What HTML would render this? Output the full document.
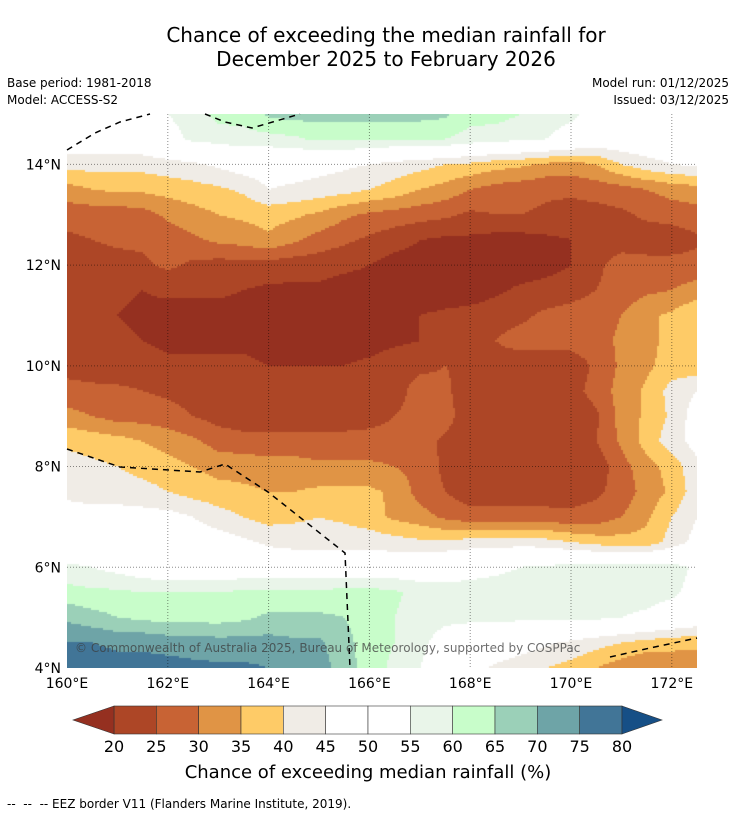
<!DOCTYPE html>
<html><head><meta charset="utf-8"><style>
body{margin:0;background:#fff;width:736px;height:816px;overflow:hidden;font-family:"DejaVu Sans","Liberation Sans",sans-serif;}
#wrap{position:relative;width:736px;height:816px;}
.t{position:absolute;white-space:nowrap;color:#000}
</style></head><body><div id="wrap">
<div class="t" style="left:0;width:772px;text-align:center;top:23px;font-size:20px;line-height:24px">Chance of exceeding the median rainfall for<br>December 2025 to February 2026</div>
<div class="t" style="left:7px;top:76px;font-size:12px">Base period: 1981-2018</div>
<div class="t" style="left:7px;top:93px;font-size:12px">Model: ACCESS-S2</div>
<div class="t" style="right:7px;top:76px;font-size:12px">Model run: 01/12/2025</div>
<div class="t" style="right:7px;top:93px;font-size:12px">Issued: 03/12/2025</div>
<canvas id="cv" width="630" height="554" style="position:absolute;left:67px;top:114px"></canvas>
<svg id="ov" width="736" height="816" style="position:absolute;left:0;top:0"></svg>
<div class="t" style="left:75px;top:641px;font-size:12px;color:rgba(60,60,60,0.75)">© Commonwealth of Australia 2025, Bureau of Meteorology, supported by COSPPac</div>
<div class="t" style="left:0;width:736px;text-align:center;top:762px;font-size:18px">Chance of exceeding median rainfall (%)</div>
<div class="t" style="left:7px;top:797px;font-size:12px">-- &nbsp;-- &nbsp;-- EEZ border V11 (Flanders Marine Institute, 2019).</div>
</div>
<script>
const lons=[160,160.5,161,161.5,162,162.5,163,163.5,164,164.5,165,165.5,166,166.5,167,167.5,168,168.5,169,169.5,170,170.5,171,171.5,172,172.5];
const lats=[15,14.5,14,13.5,13,12.5,12,11.5,11,10.5,10,9.5,9,8.5,8,7.5,7,6.5,6,5.5,5,4.5,4];
const r15=[52,52,52,53,55,57,62,62,66,67,67,67,67,67,67,66,62,62,60,57,56,53,51,50,50,50];
const r145=[50,50,50,50,53,56,57,58,58,59,61,61,61,60,60,60,58,57,56,55,53,50,50,50,50,50];
const r14=[42,42,42,42,43,44,46,48,48,48,47,46,45,43,42,40,39,37,36,34,33,35,40,43,45,46];
const r135=[33,35,36,36,37,38,39,41,45,44,43,42,40,38,35,33,30,28,27,26,26,27,28,30,32,33];
const r13=[27,27,27,28,31,33,35,36,37,36,34,31,29,28,27,26,24,25,25,24,23,23,24,26,27,28];
const r125=[24,25,26,26,27,29,31,32,34,31,28,26,24,22,20,19,19,18,18,19,20,22,23,22,22,24];
const r12=[22,22,23,24,26,24,23,23,23,22,22,21,20,18,18,17,17,17,17,18,20,24,27,27,27,27];
const r115=[23,22,21,20,21,21,21,20,19,19,19,18,18,17,17,17,17,19,21,22,23,25,27,29,30,32];
const r11=[22,22,20,19,18,18,18,18,17,17,17,17,17,18,20,21,22,23,24,26,27,28,30,34,36,40];
const r105=[23,22,21,20,19,19,19,19,18,18,18,18,18,19,20,21,22,25,27,27,27,28,31,34,36,38];
const r10=[24,23,22,22,21,21,21,21,20,20,20,20,21,23,24,25,24,23,22,22,22,26,31,34,37,37];
const r95=[26,26,26,25,24,23,22,22,22,22,22,22,22,23,27,26,22,21,21,22,23,27,32,36,42,45];
const r9=[32,30,28,28,27,25,23,22,22,22,22,22,23,25,27,27,22,21,21,21,21,24,32,36,41,48];
const r85=[39,38,37,35,33,31,28,27,27,27,27,27,27,27,27,24,22,22,23,22,22,25,31,37,43,47];
const r8=[42,41,40,38,37,35,33,33,32,32,31,31,31,30,28,24,22,24,25,22,21,22,28,33,37,44];
const r75=[44,43,43,42,40,38,37,36,35,35,36,36,36,34,28,25,22,22,22,22,23,24,27,32,36,43];
const r7=[47,47,47,47,47,45,42,40,38,39,40,39,37,34,32,29,27,27,27,27,26,27,30,34,40,45];
const r65=[50,50,50,50,50,49,48,46,44,43,43,43,43,42,41,41,42,42,43,42,40,38,37,37,42,47];
const r6=[56,55,53,51,50,50,50,50,50,50,50,50,50,50,51,52,53,54,55,56,57,57,57,57,57,54];
const r55=[62,61,61,60,60,60,60,61,61,61,61,62,62,61,58,57,57,57,57,57,57,57,57,57,56,53];
const r5=[69,67,65,64,63,63,63,64,66,66,66,65,62,60,57,56,56,56,56,56,56,56,55,54,52,50];
const r45=[75,75,74,74,73,73,72,72,72,71,71,67,62,60,56,53,51,50,48,46,44,42,40,38,37,36];
const r4=[78,78,77,77,77,76,76,76,75,74,72,68,62,59,55,52,47,44,42,40,38,35,32,30,31,32];
const values=[r15,r145,r14,r135,r13,r125,r12,r115,r11,r105,r10,r95,r9,r85,r8,r75,r7,r65,r6,r55,r5,r45,r4];
const levels=[20,25,30,35,40,45,50,55,60,65,70,75,80];
const colors=['#953020','#ad4626','#c86334','#e09445','#fecb67','#f0ece6','#ffffff','#ffffff','#e9f5e9','#c8fdca','#9bd0b8','#6ea4a7','#417597','#164f86'];
const lonTicks=[160,162,164,166,168,170,172];
const latTicks=[4,6,8,10,12,14];

const X0=67,Y0=114,W=630,H=554;
const lon0=160,lon1=172.5,lat0=4,lat1=15;
function xs(lon){return X0+(lon-lon0)/(lon1-lon0)*W;}
function ys(lat){return Y0+(lat1-lat)/(lat1-lat0)*H;}
function colorFor(v){let i=0;while(i<levels.length&&v>=levels[i])i++;return colors[i];}
function sample(lon,lat){
  let fi=(lon-lons[0])/(lons[1]-lons[0]);let fj=(lats[0]-lat)/(lats[0]-lats[1]);
  fi=Math.max(0,Math.min(lons.length-1.0001,fi));fj=Math.max(0,Math.min(lats.length-1.0001,fj));
  const i=Math.floor(fi),j=Math.floor(fj),a=fi-i,b=fj-j;
  const v00=values[j][i],v10=values[j][i+1],v01=values[j+1][i],v11=values[j+1][i+1];
  return (v00*(1-a)+v10*a)*(1-b)+(v01*(1-a)+v11*a)*b;
}
const ctx=document.getElementById('cv').getContext('2d');
const S=2;
for(let py=0;py<H;py+=S){for(let px=0;px<W;px+=S){
  const lon=lon0+(px+S/2)/W*(lon1-lon0),lat=lat1-(py+S/2)/H*(lat1-lat0);
  ctx.fillStyle=colorFor(sample(lon,lat));ctx.fillRect(px,py,S,S);
}}

const NS='http://www.w3.org/2000/svg';
const ov=document.getElementById('ov');
function mk(tag,attrs){const e=document.createElementNS(NS,tag);for(const k in attrs)e.setAttribute(k,attrs[k]);ov.appendChild(e);return e;}
lonTicks.forEach(l=>{
  if(l>lon0){const g=mk('line',{x1:xs(l),x2:xs(l),y1:Y0,y2:Y0+H,stroke:'rgba(0,0,0,0.45)','stroke-width':1,'stroke-dasharray':'1,2'});
  
  }
  const t=mk('text',{x:xs(l),y:688,'text-anchor':'middle','font-size':14,'font-family':'DejaVu Sans, sans-serif'});
  t.textContent=l+'°E';
  
  
});
latTicks.forEach(l=>{
  if(l>lat0){const g=mk('line',{x1:X0,x2:X0+W,y1:ys(l),y2:ys(l),stroke:'rgba(0,0,0,0.45)','stroke-width':1,'stroke-dasharray':'1,2'});
  
  }
  const t=mk('text',{x:61,y:ys(l)+5,'text-anchor':'end','font-size':14,'font-family':'DejaVu Sans, sans-serif'});
  t.textContent=l+'°N';
  
  
});
const eez=[[[67,150],[95,133],[120,122],[150,114]],[[205,114],[225,122],[252,128],[300,114]],[[67,449],[120,467],[200,472],[225,464],[268,492],[345,553],[350,668]],[[610,657],[650,648],[697,638]]];
eez.forEach(seg=>{const p=mk('polyline',{points:seg.map(q=>q.join(',')).join(' '),fill:'none',stroke:'#000','stroke-width':1.5,'stroke-dasharray':'6,5'});

});
const cbX=114,cbW=508,cbY=706,cbH=28,bw=cbW/12;
for(let i=0;i<12;i++){const r=mk('rect',{x:cbX+i*bw,y:cbY,width:bw,height:cbH,fill:colors[i+1],stroke:'#333','stroke-width':0.6});

}
const lt=mk('polygon',{points:`${cbX},${cbY} ${cbX},${cbY+cbH} 73,${cbY+cbH/2}`,fill:colors[0],stroke:'#333','stroke-width':0.6});


const rt=mk('polygon',{points:`${cbX+cbW},${cbY} ${cbX+cbW},${cbY+cbH} 662,${cbY+cbH/2}`,fill:colors[13],stroke:'#333','stroke-width':0.6});


levels.forEach((l,i)=>{const t=mk('text',{x:cbX+i*bw,y:752,'text-anchor':'middle','font-size':16,'font-family':'DejaVu Sans, sans-serif'});
t.textContent=l;

});
</script></body></html>
